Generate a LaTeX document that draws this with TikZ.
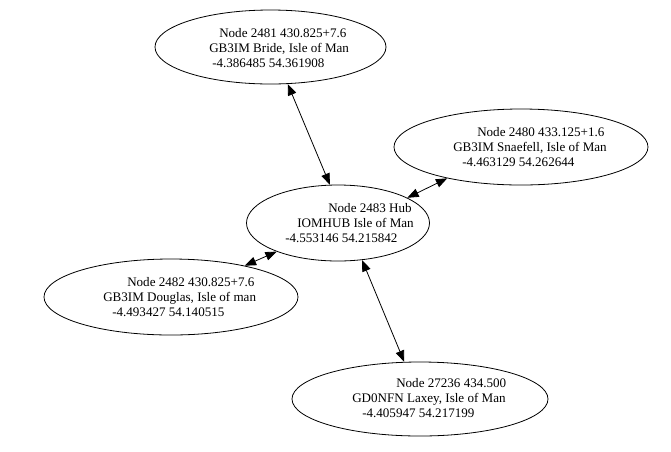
\documentclass[tikz,border=0pt]{standalone}
\usepackage{fontspec}
\setmainfont{Liberation Serif}
\usetikzlibrary{shapes.geometric,arrows.meta}
\tikzset{
  stationshape/.style={ellipse, draw=black, line width=0.6pt, inner sep=0pt},
  stationtext/.style={anchor=west, align=left, inner sep=0pt,
    font=\fontsize{9.8}{11}\selectfont},
  linkarrow/.style={{Triangle[length=8.5pt,width=6.5pt]}-{Triangle[length=8.5pt,width=6.5pt]},
    draw=black, line width=0.6pt},
}

\begin{document}
\begin{tikzpicture}[x=0.75pt, y=-0.75pt]
  \useasboundingbox (0,0) rectangle (671,451);

  % Repeater nodes (ellipses)
  \node[stationshape, minimum width=173.25pt, minimum height=55.5pt] (bride) at (270.5,47) {};
  \node[stationshape, minimum width=190.5pt, minimum height=57pt] (snaefell) at (521,147) {};
  \node[stationshape, minimum width=137.25pt, minimum height=57pt] (hub) at (338,223) {};
  \node[stationshape, minimum width=190.5pt, minimum height=57pt] (douglas) at (171,297) {};
  \node[stationshape, minimum width=192pt, minimum height=55.5pt] (laxey) at (420,399) {};

  % Labels
  \node[stationtext] (bridetext) at (209,48)
    {\hspace*{7.5pt}Node 2481 430.825+7.6\\GB3IM Bride, Isle of Man\\\hspace*{2.25pt}-4.386485 54.361908};
  \node[stationtext] (snaefelltext) at (453,147)
    {\hspace*{18pt}Node 2480 433.125+1.6\\GB3IM Snaefell, Isle of Man\\\hspace*{6.75pt}-4.463129 54.262644};
  \node[stationtext] (hubtext) at (285,223)
    {\hspace*{32.25pt}Node 2483 Hub\\\hspace*{9pt}IOMHUB Isle of Man\\-4.553146 54.215842};
  \node[stationtext] (douglastext) at (103,297)
    {\hspace*{18pt}Node 2482 430.825+7.6\\GB3IM Douglas, Isle of man\\\hspace*{6.75pt}-4.493427 54.140515};
  \node[stationtext] (laxeytext) at (352,398)
    {\hspace*{33pt}Node 27236 434.500\\GD0NFN Laxey, Isle of Man\\\hspace*{7.5pt}-4.405947 54.217199};

  % Links to the hub
  \draw[linkarrow] (bride.-65) -- (hub.102);
  \draw[linkarrow] (hub.20) -- (snaefell.203);
  \draw[linkarrow] (douglas.23) -- (hub.205);
  \draw[linkarrow] (hub.-57) -- (laxey.113);

\end{tikzpicture}
\end{document}
